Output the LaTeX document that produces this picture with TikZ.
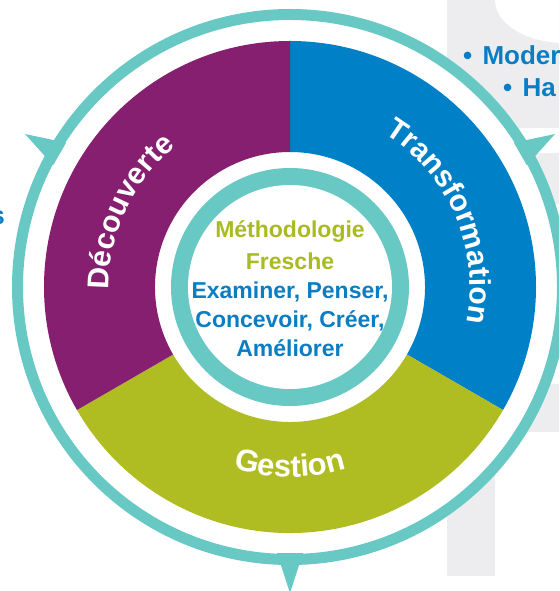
\documentclass[tikz,border=0pt]{standalone}
\usepackage{fontspec}
\setmainfont{Liberation Sans}
\usetikzlibrary{decorations.text}
\definecolor{ringteal}{HTML}{68C8C4}
\definecolor{secpurple}{HTML}{861F6F}
\definecolor{secblue}{HTML}{0080C6}
\definecolor{secgreen}{HTML}{AFBD22}
\definecolor{txtblue}{HTML}{0B7DC3}
\definecolor{txtgreen}{HTML}{A8BC22}
\definecolor{bggray}{HTML}{EDEDF0}
\newcommand\arcfont{\fontsize{30}{30}\selectfont\bfseries}
\newcommand\arcfontg{\fontsize{31}{31}\selectfont\bfseries}
\begin{document}
\begin{tikzpicture}[x=1pt,y=1pt,
  ctext/.style={font=\fontsize{23}{23}\selectfont\bfseries, anchor=base, inner sep=0pt},
  sidetext/.style={font=\fontsize{26}{26}\selectfont\bfseries, text=txtblue, inner sep=0pt},
  arclabel/.style={decorate, decoration={text along path, text color=white, text align=center}}]
\useasboundingbox (-290,-304) rectangle (269,287);
\clip (-290,-304) rectangle (269,287);
% faint background shapes (image coordinates)
\begin{scope}[shift={(-290,287)},yscale=-1]
  \fill[bggray] (447,0) rectangle (495,576);
  \fill[bggray] (447,0) rectangle (565,128);
  \fill[white] (565,0) ellipse [x radius=70, y radius=43];
  \fill[bggray] (495,153) rectangle (565,204);
  \fill[bggray] (495,296) rectangle (565,347);
  \fill[bggray] (495,384) rectangle (565,432);
\end{scope}
% side texts
\node[sidetext, anchor=base west] (moder) at (173,222) {•\hspace{3pt} Moder};
\node[sidetext, anchor=base west] (ha) at (213,190) {•\hspace{3pt} Ha};
\node[sidetext, anchor=base east] (sfrag) at (-285,62) {s};
% outer ring
\fill[white] (0,0) circle (278);
\fill[ringteal, even odd rule] (0,0) circle (278) (0,0) circle (267);
\foreach \a in {-90,30,150}
  \fill[ringteal, rotate=\a] (266,-13) -- (306,0) -- (266,13) -- cycle;
% sectors
\fill[secblue] (90:135) -- (90:246) arc[start angle=90, end angle=-30, radius=246]
  -- (-30:135) arc[start angle=-30, end angle=90, radius=135] -- cycle;
\fill[secgreen] (-30:135) -- (-30:246) arc[start angle=-30, end angle=-150, radius=246]
  -- (-150:135) arc[start angle=-150, end angle=-30, radius=135] -- cycle;
\fill[secpurple] (90:135) -- (90:246) arc[start angle=90, end angle=210, radius=246]
  -- (210:135) arc[start angle=210, end angle=90, radius=135] -- cycle;
% inner ring
\fill[ringteal] (0,0) circle (119);
\fill[white] (0,0) circle (102);
% arc labels
\path[arclabel, decoration={text={|\arcfont|Transformation}}]
  (62:180) arc[start angle=62, end angle=-15, radius=180];
\path[arclabel, decoration={text={|\arcfont|Découverte}}]
  (185:181) arc[start angle=185, end angle=125, radius=181];
\path[arclabel, decoration={text={|\arcfontg|Gestion}}]
  (250:190) arc[start angle=250, end angle=290, radius=190];
% centre text
\node[ctext, text=txtgreen] (m1) at (0,49) {Méthodologie};
\node[ctext, text=txtgreen] (m2) at (0,17) {Fresche};
\node[ctext, text=txtblue] (m3) at (0,-12) {Examiner, Penser,};
\node[ctext, text=txtblue] (m4) at (0,-41) {Concevoir, Créer,};
\node[ctext, text=txtblue] (m5) at (0,-70) {Améliorer};
\end{tikzpicture}
\end{document}
